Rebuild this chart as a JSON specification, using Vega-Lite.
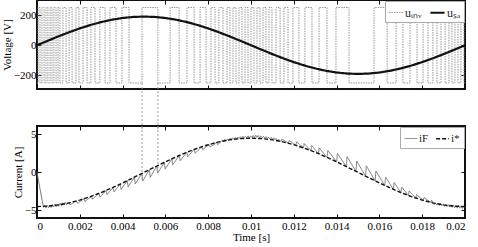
{
"$schema":"https://vega.github.io/schema/vega-lite/v6.json",
"padding":{"left":0,"top":-2,"right":5,"bottom":0},
"bounds":"flush",
"spacing":37,
"resolve":{"scale":{"color":"independent","strokeDash":"independent","strokeWidth":"independent"},"legend":{"color":"independent","strokeDash":"independent","strokeWidth":"independent"}},
"datasets":{
"uinv":[{"t":0,"v":-250,"s":"u_inv"},{"t":0.00005,"v":250,"s":"u_inv"},{"t":0.00014,"v":-250,"s":"u_inv"},{"t":0.00023,"v":250,"s":"u_inv"},{"t":0.00033,"v":-250,"s":"u_inv"},{"t":0.00042,"v":250,"s":"u_inv"},{"t":0.00051,"v":-250,"s":"u_inv"},{"t":0.00061,"v":250,"s":"u_inv"},{"t":0.00070,"v":-250,"s":"u_inv"},{"t":0.00079,"v":250,"s":"u_inv"},{"t":0.00089,"v":-250,"s":"u_inv"},{"t":0.00098,"v":250,"s":"u_inv"},{"t":0.00107,"v":-250,"s":"u_inv"},{"t":0.00121,"v":250,"s":"u_inv"},{"t":0.00136,"v":-250,"s":"u_inv"},{"t":0.00150,"v":250,"s":"u_inv"},{"t":0.00164,"v":-250,"s":"u_inv"},{"t":0.00182,"v":250,"s":"u_inv"},{"t":0.00196,"v":-250,"s":"u_inv"},{"t":0.00215,"v":250,"s":"u_inv"},{"t":0.00234,"v":-250,"s":"u_inv"},{"t":0.00252,"v":250,"s":"u_inv"},{"t":0.00271,"v":-250,"s":"u_inv"},{"t":0.00294,"v":250,"s":"u_inv"},{"t":0.00318,"v":-250,"s":"u_inv"},{"t":0.00341,"v":250,"s":"u_inv"},{"t":0.00369,"v":-250,"s":"u_inv"},{"t":0.00397,"v":250,"s":"u_inv"},{"t":0.00430,"v":-250,"s":"u_inv"},{"t":0.00491,"v":250,"s":"u_inv"},{"t":0.00565,"v":-250,"s":"u_inv"},{"t":0.00622,"v":250,"s":"u_inv"},{"t":0.00664,"v":-250,"s":"u_inv"},{"t":0.00701,"v":250,"s":"u_inv"},{"t":0.00734,"v":-250,"s":"u_inv"},{"t":0.00762,"v":250,"s":"u_inv"},{"t":0.00790,"v":-250,"s":"u_inv"},{"t":0.00813,"v":250,"s":"u_inv"},{"t":0.00832,"v":-250,"s":"u_inv"},{"t":0.00850,"v":250,"s":"u_inv"},{"t":0.00869,"v":-250,"s":"u_inv"},{"t":0.00888,"v":250,"s":"u_inv"},{"t":0.00902,"v":-250,"s":"u_inv"},{"t":0.00916,"v":250,"s":"u_inv"},{"t":0.00930,"v":-250,"s":"u_inv"},{"t":0.00944,"v":250,"s":"u_inv"},{"t":0.00958,"v":-250,"s":"u_inv"},{"t":0.00972,"v":250,"s":"u_inv"},{"t":0.00986,"v":-250,"s":"u_inv"},{"t":0.01000,"v":250,"s":"u_inv"},{"t":0.01014,"v":-250,"s":"u_inv"},{"t":0.01028,"v":250,"s":"u_inv"},{"t":0.01042,"v":-250,"s":"u_inv"},{"t":0.01056,"v":250,"s":"u_inv"},{"t":0.01070,"v":-250,"s":"u_inv"},{"t":0.01084,"v":250,"s":"u_inv"},{"t":0.01098,"v":-250,"s":"u_inv"},{"t":0.01117,"v":250,"s":"u_inv"},{"t":0.01136,"v":-250,"s":"u_inv"},{"t":0.01154,"v":250,"s":"u_inv"},{"t":0.01173,"v":-250,"s":"u_inv"},{"t":0.01196,"v":250,"s":"u_inv"},{"t":0.01224,"v":-250,"s":"u_inv"},{"t":0.01252,"v":250,"s":"u_inv"},{"t":0.01285,"v":-250,"s":"u_inv"},{"t":0.01318,"v":250,"s":"u_inv"},{"t":0.01355,"v":-250,"s":"u_inv"},{"t":0.01397,"v":250,"s":"u_inv"},{"t":0.01458,"v":-250,"s":"u_inv"},{"t":0.01575,"v":250,"s":"u_inv"},{"t":0.01636,"v":-250,"s":"u_inv"},{"t":0.01678,"v":250,"s":"u_inv"},{"t":0.01710,"v":-250,"s":"u_inv"},{"t":0.01743,"v":250,"s":"u_inv"},{"t":0.01776,"v":-250,"s":"u_inv"},{"t":0.01804,"v":250,"s":"u_inv"},{"t":0.01827,"v":-250,"s":"u_inv"},{"t":0.01850,"v":250,"s":"u_inv"},{"t":0.01869,"v":-250,"s":"u_inv"},{"t":0.01888,"v":250,"s":"u_inv"},{"t":0.01907,"v":-250,"s":"u_inv"},{"t":0.01925,"v":250,"s":"u_inv"},{"t":0.01939,"v":-250,"s":"u_inv"},{"t":0.01953,"v":250,"s":"u_inv"},{"t":0.01967,"v":-250,"s":"u_inv"},{"t":0.01981,"v":250,"s":"u_inv"},{"t":0.01995,"v":-250,"s":"u_inv"},{"t":0.02,"v":-250,"s":"u_inv"}],
"usa":[{"t":0,"v":0,"s":"u_SA"},{"t":0.0005,"v":29.7,"s":"u_SA"},{"t":0.001,"v":58.7,"s":"u_SA"},{"t":0.0015,"v":86.3,"s":"u_SA"},{"t":0.002,"v":111.7,"s":"u_SA"},{"t":0.0025,"v":134.4,"s":"u_SA"},{"t":0.003,"v":153.7,"s":"u_SA"},{"t":0.0035,"v":169.3,"s":"u_SA"},{"t":0.004,"v":180.7,"s":"u_SA"},{"t":0.0045,"v":187.7,"s":"u_SA"},{"t":0.005,"v":190,"s":"u_SA"},{"t":0.0055,"v":187.7,"s":"u_SA"},{"t":0.006,"v":180.7,"s":"u_SA"},{"t":0.0065,"v":169.3,"s":"u_SA"},{"t":0.007,"v":153.7,"s":"u_SA"},{"t":0.0075,"v":134.4,"s":"u_SA"},{"t":0.008,"v":111.7,"s":"u_SA"},{"t":0.0085,"v":86.3,"s":"u_SA"},{"t":0.009,"v":58.7,"s":"u_SA"},{"t":0.0095,"v":29.7,"s":"u_SA"},{"t":0.01,"v":0,"s":"u_SA"},{"t":0.0105,"v":-29.7,"s":"u_SA"},{"t":0.011,"v":-58.7,"s":"u_SA"},{"t":0.0115,"v":-86.3,"s":"u_SA"},{"t":0.012,"v":-111.7,"s":"u_SA"},{"t":0.0125,"v":-134.4,"s":"u_SA"},{"t":0.013,"v":-153.7,"s":"u_SA"},{"t":0.0135,"v":-169.3,"s":"u_SA"},{"t":0.014,"v":-180.7,"s":"u_SA"},{"t":0.0145,"v":-187.7,"s":"u_SA"},{"t":0.015,"v":-190,"s":"u_SA"},{"t":0.0155,"v":-187.7,"s":"u_SA"},{"t":0.016,"v":-180.7,"s":"u_SA"},{"t":0.0165,"v":-169.3,"s":"u_SA"},{"t":0.017,"v":-153.7,"s":"u_SA"},{"t":0.0175,"v":-134.4,"s":"u_SA"},{"t":0.018,"v":-111.7,"s":"u_SA"},{"t":0.0185,"v":-86.3,"s":"u_SA"},{"t":0.019,"v":-58.7,"s":"u_SA"},{"t":0.0195,"v":-29.7,"s":"u_SA"},{"t":0.02,"v":0,"s":"u_SA"}],
"iF":[{"t":0,"i":0,"s":"i_F"},{"t":0.0003,"i":-4.6,"s":"i_F"},{"t":0.00036,"i":-4.3,"s":"i_F"},{"t":0.00042,"i":-4.7,"s":"i_F"},{"t":0.00048,"i":-4.35,"s":"i_F"},{"t":0.00054,"i":-4.65,"s":"i_F"},{"t":0.0006,"i":-4.3,"s":"i_F"},{"t":0.00066,"i":-4.6,"s":"i_F"},{"t":0.00072,"i":-4.25,"s":"i_F"},{"t":0.00078,"i":-4.55,"s":"i_F"},{"t":0.00084,"i":-4.2,"s":"i_F"},{"t":0.0009,"i":-4.5,"s":"i_F"},{"t":0.00096,"i":-4.15,"s":"i_F"},{"t":0.00102,"i":-4.45,"s":"i_F"},{"t":0.00108,"i":-4.05,"s":"i_F"},{"t":0.00114,"i":-4.4,"s":"i_F"},{"t":0.0012,"i":-4.0,"s":"i_F"},{"t":0.00126,"i":-4.3,"s":"i_F"},{"t":0.00132,"i":-3.95,"s":"i_F"},{"t":0.00138,"i":-4.25,"s":"i_F"},{"t":0.00144,"i":-4.0,"s":"i_F"},
{"t":0.0015,"i":-4.01,"s":"i_F"},{"t":0.00154,"i":-4.26,"s":"i_F"},{"t":0.00185,"i":-3.76,"s":"i_F"},{"t":0.00189,"i":-4.06,"s":"i_F"},{"t":0.0022,"i":-3.47,"s":"i_F"},{"t":0.00224,"i":-3.82,"s":"i_F"},{"t":0.00255,"i":-3.13,"s":"i_F"},{"t":0.00259,"i":-3.53,"s":"i_F"},{"t":0.0029,"i":-2.76,"s":"i_F"},{"t":0.00294,"i":-3.26,"s":"i_F"},{"t":0.00323,"i":-2.38,"s":"i_F"},{"t":0.00327,"i":-2.93,"s":"i_F"},{"t":0.00356,"i":-1.97,"s":"i_F"},{"t":0.0036,"i":-2.57,"s":"i_F"},{"t":0.00389,"i":-1.54,"s":"i_F"},{"t":0.00393,"i":-2.24,"s":"i_F"},{"t":0.00422,"i":-1.09,"s":"i_F"},{"t":0.00426,"i":-1.89,"s":"i_F"},{"t":0.00455,"i":-0.63,"s":"i_F"},{"t":0.00459,"i":-1.53,"s":"i_F"},{"t":0.0049,"i":-0.14,"s":"i_F"},{"t":0.00494,"i":-1.14,"s":"i_F"},{"t":0.00525,"i":0.35,"s":"i_F"},{"t":0.00529,"i":-0.65,"s":"i_F"},{"t":0.0056,"i":0.84,"s":"i_F"},{"t":0.00564,"i":-0.11,"s":"i_F"},{"t":0.00595,"i":1.32,"s":"i_F"},{"t":0.00599,"i":0.42,"s":"i_F"},{"t":0.0063,"i":1.79,"s":"i_F"},{"t":0.00634,"i":0.99,"s":"i_F"},{"t":0.00665,"i":2.23,"s":"i_F"},{"t":0.00669,"i":1.53,"s":"i_F"},{"t":0.007,"i":2.65,"s":"i_F"},{"t":0.00704,"i":2.05,"s":"i_F"},{"t":0.00735,"i":3.03,"s":"i_F"},{"t":0.00739,"i":2.53,"s":"i_F"},{"t":0.0077,"i":3.38,"s":"i_F"},{"t":0.00774,"i":2.98,"s":"i_F"},{"t":0.00805,"i":3.68,"s":"i_F"},{"t":0.00809,"i":3.33,"s":"i_F"},{"t":0.0084,"i":3.94,"s":"i_F"},{"t":0.00844,"i":3.64,"s":"i_F"},
{"t":0.0086,"i":4.05,"s":"i_F"},{"t":0.00866,"i":4.25,"s":"i_F"},{"t":0.00872,"i":4.1,"s":"i_F"},{"t":0.00878,"i":4.35,"s":"i_F"},{"t":0.00884,"i":4.15,"s":"i_F"},{"t":0.0089,"i":4.4,"s":"i_F"},{"t":0.00896,"i":4.2,"s":"i_F"},{"t":0.00902,"i":4.5,"s":"i_F"},{"t":0.00908,"i":4.3,"s":"i_F"},{"t":0.00914,"i":4.55,"s":"i_F"},{"t":0.0092,"i":4.35,"s":"i_F"},{"t":0.00926,"i":4.6,"s":"i_F"},{"t":0.00932,"i":4.4,"s":"i_F"},{"t":0.00938,"i":4.65,"s":"i_F"},{"t":0.00944,"i":4.45,"s":"i_F"},{"t":0.0095,"i":4.7,"s":"i_F"},{"t":0.00956,"i":4.5,"s":"i_F"},{"t":0.00962,"i":4.75,"s":"i_F"},{"t":0.00968,"i":4.5,"s":"i_F"},{"t":0.00974,"i":4.75,"s":"i_F"},{"t":0.0098,"i":4.55,"s":"i_F"},{"t":0.00986,"i":4.8,"s":"i_F"},{"t":0.00992,"i":4.55,"s":"i_F"},{"t":0.00998,"i":4.8,"s":"i_F"},{"t":0.01004,"i":4.6,"s":"i_F"},{"t":0.0101,"i":4.85,"s":"i_F"},{"t":0.01016,"i":4.6,"s":"i_F"},{"t":0.01022,"i":4.9,"s":"i_F"},{"t":0.01028,"i":4.6,"s":"i_F"},{"t":0.01034,"i":4.85,"s":"i_F"},{"t":0.0104,"i":4.55,"s":"i_F"},{"t":0.01046,"i":4.8,"s":"i_F"},{"t":0.01052,"i":4.5,"s":"i_F"},{"t":0.01058,"i":4.75,"s":"i_F"},{"t":0.01064,"i":4.5,"s":"i_F"},{"t":0.0107,"i":4.7,"s":"i_F"},{"t":0.01076,"i":4.45,"s":"i_F"},{"t":0.01082,"i":4.65,"s":"i_F"},{"t":0.01088,"i":4.4,"s":"i_F"},{"t":0.01094,"i":4.6,"s":"i_F"},{"t":0.011,"i":4.35,"s":"i_F"},{"t":0.01106,"i":4.55,"s":"i_F"},{"t":0.01112,"i":4.3,"s":"i_F"},{"t":0.01118,"i":4.45,"s":"i_F"},{"t":0.01124,"i":4.2,"s":"i_F"},{"t":0.0113,"i":4.35,"s":"i_F"},
{"t":0.0114,"i":4.07,"s":"i_F"},{"t":0.01144,"i":4.37,"s":"i_F"},{"t":0.01175,"i":3.84,"s":"i_F"},{"t":0.01179,"i":4.19,"s":"i_F"},{"t":0.0121,"i":3.56,"s":"i_F"},{"t":0.01214,"i":4.01,"s":"i_F"},{"t":0.01245,"i":3.23,"s":"i_F"},{"t":0.01249,"i":3.78,"s":"i_F"},{"t":0.0128,"i":2.87,"s":"i_F"},{"t":0.01284,"i":3.52,"s":"i_F"},{"t":0.01315,"i":2.47,"s":"i_F"},{"t":0.01319,"i":3.22,"s":"i_F"},{"t":0.01355,"i":1.98,"s":"i_F"},{"t":0.01359,"i":2.88,"s":"i_F"},{"t":0.014,"i":1.39,"s":"i_F"},{"t":0.01404,"i":2.49,"s":"i_F"},{"t":0.01445,"i":0.77,"s":"i_F"},{"t":0.01449,"i":2.07,"s":"i_F"},{"t":0.0149,"i":0.14,"s":"i_F"},{"t":0.01494,"i":1.49,"s":"i_F"},{"t":0.01535,"i":-0.49,"s":"i_F"},{"t":0.01539,"i":0.86,"s":"i_F"},{"t":0.0158,"i":-1.12,"s":"i_F"},{"t":0.01584,"i":0.18,"s":"i_F"},{"t":0.01625,"i":-1.72,"s":"i_F"},{"t":0.01629,"i":-0.62,"s":"i_F"},{"t":0.01665,"i":-2.23,"s":"i_F"},{"t":0.01669,"i":-1.33,"s":"i_F"},{"t":0.017,"i":-2.65,"s":"i_F"},{"t":0.01704,"i":-1.93,"s":"i_F"},{"t":0.01735,"i":-3.03,"s":"i_F"},{"t":0.01739,"i":-2.45,"s":"i_F"},{"t":0.0177,"i":-3.38,"s":"i_F"},{"t":0.01774,"i":-2.92,"s":"i_F"},{"t":0.01805,"i":-3.68,"s":"i_F"},{"t":0.01809,"i":-3.31,"s":"i_F"},{"t":0.0184,"i":-3.94,"s":"i_F"},{"t":0.01844,"i":-3.64,"s":"i_F"},
{"t":0.0185,"i":-4.05,"s":"i_F"},{"t":0.01856,"i":-4.25,"s":"i_F"},{"t":0.01862,"i":-4.0,"s":"i_F"},{"t":0.01868,"i":-4.3,"s":"i_F"},{"t":0.01874,"i":-4.05,"s":"i_F"},{"t":0.0188,"i":-4.35,"s":"i_F"},{"t":0.01886,"i":-4.1,"s":"i_F"},{"t":0.01892,"i":-4.4,"s":"i_F"},{"t":0.01898,"i":-4.15,"s":"i_F"},{"t":0.01904,"i":-4.45,"s":"i_F"},{"t":0.0191,"i":-4.2,"s":"i_F"},{"t":0.01916,"i":-4.5,"s":"i_F"},{"t":0.01922,"i":-4.25,"s":"i_F"},{"t":0.01928,"i":-4.55,"s":"i_F"},{"t":0.01934,"i":-4.3,"s":"i_F"},{"t":0.0194,"i":-4.6,"s":"i_F"},{"t":0.01946,"i":-4.3,"s":"i_F"},{"t":0.01952,"i":-4.65,"s":"i_F"},{"t":0.01958,"i":-4.35,"s":"i_F"},{"t":0.01964,"i":-4.7,"s":"i_F"},{"t":0.0197,"i":-4.35,"s":"i_F"},{"t":0.01976,"i":-4.7,"s":"i_F"},{"t":0.01982,"i":-4.4,"s":"i_F"},{"t":0.01988,"i":-4.75,"s":"i_F"},{"t":0.01994,"i":-4.4,"s":"i_F"},{"t":0.02,"i":-4.6,"s":"i_F"}],
"iref":[{"t":0,"i":-4.5,"s":"i*"},{"t":0.0005,"i":-4.44,"s":"i*"},{"t":0.001,"i":-4.28,"s":"i*"},{"t":0.0015,"i":-4.01,"s":"i*"},{"t":0.002,"i":-3.64,"s":"i*"},{"t":0.0025,"i":-3.18,"s":"i*"},{"t":0.003,"i":-2.65,"s":"i*"},{"t":0.0035,"i":-2.04,"s":"i*"},{"t":0.004,"i":-1.39,"s":"i*"},{"t":0.0045,"i":-0.7,"s":"i*"},{"t":0.005,"i":0,"s":"i*"},{"t":0.0055,"i":0.7,"s":"i*"},{"t":0.006,"i":1.39,"s":"i*"},{"t":0.0065,"i":2.04,"s":"i*"},{"t":0.007,"i":2.65,"s":"i*"},{"t":0.0075,"i":3.18,"s":"i*"},{"t":0.008,"i":3.64,"s":"i*"},{"t":0.0085,"i":4.01,"s":"i*"},{"t":0.009,"i":4.28,"s":"i*"},{"t":0.0095,"i":4.44,"s":"i*"},{"t":0.01,"i":4.5,"s":"i*"},{"t":0.0105,"i":4.44,"s":"i*"},{"t":0.011,"i":4.28,"s":"i*"},{"t":0.0115,"i":4.01,"s":"i*"},{"t":0.012,"i":3.64,"s":"i*"},{"t":0.0125,"i":3.18,"s":"i*"},{"t":0.013,"i":2.65,"s":"i*"},{"t":0.0135,"i":2.04,"s":"i*"},{"t":0.014,"i":1.39,"s":"i*"},{"t":0.0145,"i":0.7,"s":"i*"},{"t":0.015,"i":0,"s":"i*"},{"t":0.0155,"i":-0.7,"s":"i*"},{"t":0.016,"i":-1.39,"s":"i*"},{"t":0.0165,"i":-2.04,"s":"i*"},{"t":0.017,"i":-2.65,"s":"i*"},{"t":0.0175,"i":-3.18,"s":"i*"},{"t":0.018,"i":-3.64,"s":"i*"},{"t":0.0185,"i":-4.01,"s":"i*"},{"t":0.019,"i":-4.28,"s":"i*"},{"t":0.0195,"i":-4.44,"s":"i*"},{"t":0.02,"i":-4.5,"s":"i*"}],
"guide":[{"t":0.00491,"vtop":-250,"vbot":-560,"itop":6.1,"ibot":-1.0},{"t":0.00565,"vtop":-250,"vbot":-560,"itop":6.1,"ibot":0.2}]
},
"vconcat":[
{
"width":428,"height":89,
"layer":[
{"data":{"name":"uinv"},"mark":{"type":"line","interpolate":"step-after"},
"encoding":{
"x":{"field":"t","type":"quantitative","scale":{"domain":[0,0.02],"nice":false,"zero":false},"axis":{"labels":false,"title":null,"values":[0,0.002,0.004,0.006,0.008,0.01,0.012,0.014,0.016,0.018,0.02]}},
"y":{"field":"v","type":"quantitative","scale":{"domain":[-290,300],"nice":false},"axis":{"values":[-200,0,200],"title":"Voltage [V]","titlePadding":1}},
"color":{"field":"s","type":"nominal","scale":{"domain":["u_inv","u_SA"],"range":["#959595","#111111"]},"legend":{"orient":"top-right","direction":"horizontal","title":null,"symbolType":"stroke","symbolSize":200,"labelFont":"Liberation Serif","labelFontSize":12,"labelColor":"#222","fillColor":"#ffffff","strokeColor":"#aaaaaa","padding":3,"offset":1,"columnPadding":4,"labelOffset":1,"labelExpr":"datum.label == 'u_inv' ? 'uᵢₙᵥ' : 'uₛₐ'"}},
"strokeDash":{"field":"s","type":"nominal","scale":{"domain":["u_inv","u_SA"],"range":[[1.5,1],[1,0]]},"legend":{"orient":"top-right","direction":"horizontal","title":null,"symbolType":"stroke","symbolSize":200,"labelFont":"Liberation Serif","labelFontSize":12,"labelColor":"#222","fillColor":"#ffffff","strokeColor":"#aaaaaa","padding":3,"offset":1,"columnPadding":4,"labelOffset":1,"labelExpr":"datum.label == 'u_inv' ? 'uᵢₙᵥ' : 'uₛₐ'"}},
"strokeWidth":{"field":"s","type":"nominal","scale":{"domain":["u_inv","u_SA"],"range":[1,2.2]},"legend":{"orient":"top-right","direction":"horizontal","title":null,"symbolType":"stroke","symbolSize":200,"labelFont":"Liberation Serif","labelFontSize":12,"labelColor":"#222","fillColor":"#ffffff","strokeColor":"#aaaaaa","padding":3,"offset":1,"columnPadding":4,"labelOffset":1,"labelExpr":"datum.label == 'u_inv' ? 'uᵢₙᵥ' : 'uₛₐ'"}}
}},
{"data":{"name":"usa"},"mark":{"type":"line"},
"encoding":{
"x":{"field":"t","type":"quantitative","axis":{"orient":"top","labels":false,"title":null,"values":[0,0.002,0.004,0.006,0.008,0.01,0.012,0.014,0.016,0.018,0.02]}},
"y":{"field":"v","type":"quantitative","axis":{"orient":"right","labels":false,"title":null,"values":[-200,0,200]}},
"color":{"field":"s","type":"nominal"},
"strokeDash":{"field":"s","type":"nominal"},
"strokeWidth":{"field":"s","type":"nominal"}
}},
{"data":{"name":"guide"},"mark":{"type":"rule","color":"#999999","strokeDash":[2,2],"strokeWidth":1,"clip":false},
"encoding":{
"x":{"field":"t","type":"quantitative","axis":null},
"y":{"field":"vtop","type":"quantitative","axis":null},
"y2":{"field":"vbot"}
}}
],
"resolve":{"axis":{"x":"independent","y":"independent"}}
},
{
"width":428,"height":92,
"layer":[
{"data":{"name":"iF"},"mark":{"type":"line"},
"encoding":{
"x":{"field":"t","type":"quantitative","scale":{"domain":[0,0.02],"nice":false,"zero":false},"axis":{"values":[0,0.002,0.004,0.006,0.008,0.01,0.012,0.014,0.016,0.018,0.02],"format":"~g","title":"Time [s]","titlePadding":0,"labelPadding":6}},
"y":{"field":"i","type":"quantitative","scale":{"domain":[-6,6.1],"nice":false},"axis":{"values":[-5,0,5],"title":"Current [A]","titlePadding":1}},
"color":{"field":"s","type":"nominal","scale":{"domain":["i_F","i*"],"range":["#777777","#111111"]},"legend":{"orient":"top-right","direction":"horizontal","title":null,"symbolType":"stroke","symbolSize":160,"labelFont":"Liberation Serif","labelFontSize":11,"labelColor":"#222","fillColor":"#ffffff","strokeColor":"#aaaaaa","padding":4,"offset":1,"columnPadding":4,"labelOffset":1,"labelExpr":"datum.label == 'i_F' ? 'iF' : 'i*'"}},
"strokeDash":{"field":"s","type":"nominal","scale":{"domain":["i_F","i*"],"range":[[1,0],[4,2]]},"legend":{"orient":"top-right","direction":"horizontal","title":null,"symbolType":"stroke","symbolSize":160,"labelFont":"Liberation Serif","labelFontSize":11,"labelColor":"#222","fillColor":"#ffffff","strokeColor":"#aaaaaa","padding":4,"offset":1,"columnPadding":4,"labelOffset":1,"labelExpr":"datum.label == 'i_F' ? 'iF' : 'i*'"}},
"strokeWidth":{"field":"s","type":"nominal","scale":{"domain":["i_F","i*"],"range":[1,1.4]},"legend":{"orient":"top-right","direction":"horizontal","title":null,"symbolType":"stroke","symbolSize":160,"labelFont":"Liberation Serif","labelFontSize":11,"labelColor":"#222","fillColor":"#ffffff","strokeColor":"#aaaaaa","padding":4,"offset":1,"columnPadding":4,"labelOffset":1,"labelExpr":"datum.label == 'i_F' ? 'iF' : 'i*'"}}
}},
{"data":{"name":"iref"},"mark":{"type":"line"},
"encoding":{
"x":{"field":"t","type":"quantitative","axis":{"orient":"top","labels":false,"title":null,"values":[0,0.002,0.004,0.006,0.008,0.01,0.012,0.014,0.016,0.018,0.02]}},
"y":{"field":"i","type":"quantitative","axis":{"orient":"right","labels":false,"title":null,"values":[-5,0,5]}},
"color":{"field":"s","type":"nominal"},
"strokeDash":{"field":"s","type":"nominal"},
"strokeWidth":{"field":"s","type":"nominal"}
}},
{"data":{"name":"guide"},"mark":{"type":"rule","color":"#999999","strokeDash":[2,2],"strokeWidth":1,"clip":false},
"encoding":{
"x":{"field":"t","type":"quantitative","axis":null},
"y":{"field":"itop","type":"quantitative","axis":null},
"y2":{"field":"ibot"}
}}
],
"resolve":{"axis":{"x":"independent","y":"independent"}}
}
],
"config":{
"font":"Liberation Serif",
"view":{"stroke":"#111111","strokeWidth":2},
"axis":{"labelFont":"Liberation Serif","titleFont":"Liberation Serif","labelFontSize":11,"titleFontSize":11,"titleFontWeight":"normal","labelColor":"#000","titleColor":"#000","domain":false,"grid":false,"tickColor":"#111","tickSize":-4,"labelPadding":5}
}
}
